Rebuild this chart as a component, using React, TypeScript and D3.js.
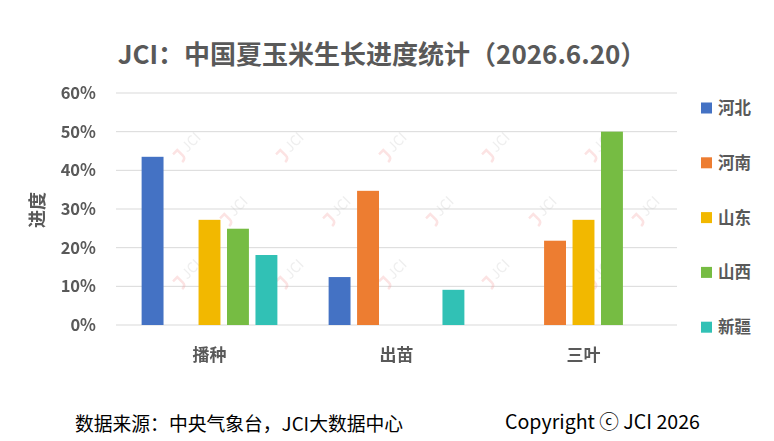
import { useEffect, useRef } from "react";
import * as d3 from "d3";

const stages = ["播种", "出苗", "三叶"];
const provinces = ["河北", "河南", "山东", "山西", "新疆"];
const colors = ["#4472C4", "#ED7D31", "#F2B800", "#76BC43", "#31C1B5"];

// progress per province, order follows stages
const hebei = [0.435, 0.124, 0];
const henan = [0, 0.347, 0.218];
const shandong = [0.272, 0, 0.272];
const shanxi = [0.249, 0, 0.5];
const xinjiang = [0.181, 0.091, 0];

const seriesValues = [hebei, henan, shandong, shanxi, xinjiang];
const yTicks = [0, 0.1, 0.2, 0.3, 0.4, 0.5, 0.6];

const title = "JCI：中国夏玉米生长进度统计（2026.6.20）";
const source = "数据来源：中央气象台，JCI大数据中心";
const copyright = "Copyright ⓒ JCI 2026";

export default function App() {
  const svgRef = useRef<SVGSVGElement | null>(null);

  useEffect(() => {
    if (!svgRef.current) return;
    const width = 774;
    const height = 441;
    const margin = { top: 93, right: 97, bottom: 116, left: 116 };
    const font = "'Noto Sans CJK SC', 'Noto Sans', sans-serif";
    const textColor = "#595959";

    const svg = d3.select(svgRef.current);
    svg.selectAll("*").remove();

    svg.append("rect").attr("width", width).attr("height", height).attr("fill", "#fff");

    const x0 = d3
      .scaleBand()
      .domain(stages)
      .range([margin.left, width - margin.right])
      .paddingInner(0)
      .paddingOuter(0);

    const x1 = d3
      .scaleBand()
      .domain(provinces)
      .range([0, x0.bandwidth()])
      .paddingInner(0.23)
      .paddingOuter(0.9);

    const y = d3
      .scaleLinear()
      .domain([0, 0.6])
      .range([height - margin.bottom, margin.top]);

    // gridlines
    svg
      .append("g")
      .selectAll("line")
      .data(yTicks)
      .join("line")
      .attr("x1", margin.left)
      .attr("x2", width - margin.right)
      .attr("y1", (d) => y(d))
      .attr("y2", (d) => y(d))
      .attr("stroke", "#d9d9d9")
      .attr("stroke-width", 1);

    // watermark
    const wm = svg.append("g").attr("opacity", 0.3);
    const rows = [143, 207, 270];
    rows.forEach((ry, ri) => {
      for (let i = 0; i < 6; i++) {
        const cx = (ri % 2 === 0 ? 190 : 237) + i * 103;
        if (cx > width - margin.right) continue;
        const g = wm.append("g").attr("transform", `translate(${cx},${ry}) rotate(-45)`);
        g.append("path")
          .attr("d", "M-20,-4 L-14,-4 L-14,4 Q-14,8 -19,8")
          .attr("fill", "none")
          .attr("stroke", "#f3a0a0")
          .attr("stroke-width", 2.5);
        g.append("text")
          .attr("x", -9)
          .attr("y", 5)
          .attr("font-family", font)
          .attr("font-size", 14)
          .attr("fill", "#c8c8c8")
          .text("JCI");
      }
    });

    // bars
    const groups = svg
      .append("g")
      .selectAll("g")
      .data(stages)
      .join("g")
      .attr("transform", (d) => `translate(${x0(d)},0)`);

    groups
      .selectAll("rect")
      .data((_, si) => provinces.map((p, pi) => ({ p, pi, v: seriesValues[pi][si] })))
      .join("rect")
      .filter((d) => d.v > 0)
      .attr("x", (d) => x1(d.p) as number)
      .attr("width", x1.bandwidth())
      .attr("y", (d) => y(d.v))
      .attr("height", (d) => y(0) - y(d.v))
      .attr("fill", (d) => colors[d.pi]);

    // y axis labels
    svg
      .append("g")
      .selectAll("text")
      .data(yTicks)
      .join("text")
      .attr("x", 96)
      .attr("y", (d) => y(d))
      .attr("dy", "0.36em")
      .attr("text-anchor", "end")
      .attr("font-family", font)
      .attr("font-size", 16.5)
      .attr("font-weight", "bold")
      .attr("fill", textColor)
      .text((d) => d3.format(".0%")(d));

    // x axis labels
    svg
      .append("g")
      .selectAll("text")
      .data(stages)
      .join("text")
      .attr("x", (d) => (x0(d) as number) + x0.bandwidth() / 2)
      .attr("y", 355)
      .attr("dy", "0.36em")
      .attr("text-anchor", "middle")
      .attr("font-family", font)
      .attr("font-size", 17)
      .attr("font-weight", "bold")
      .attr("fill", textColor)
      .text((d) => d);

    // y axis title
    svg
      .append("text")
      .attr("transform", `translate(38,210) rotate(-90)`)
      .attr("dy", "0.36em")
      .attr("text-anchor", "middle")
      .attr("font-family", font)
      .attr("font-size", 18)
      .attr("font-weight", "bold")
      .attr("fill", textColor)
      .text("进度");

    // title
    svg
      .append("text")
      .attr("x", 382)
      .attr("y", 55)
      .attr("dy", "0.36em")
      .attr("text-anchor", "middle")
      .attr("font-family", font)
      .attr("font-size", 26)
      .attr("font-weight", "bold")
      .attr("fill", textColor)
      .text(title);

    // legend
    const legend = svg.append("g").attr("transform", "translate(701,108)");
    provinces.forEach((p, i) => {
      const row = legend.append("g").attr("transform", `translate(0,${i * 54.8})`);
      row.append("rect").attr("x", 0).attr("y", -5.5).attr("width", 11).attr("height", 11).attr("fill", colors[i]);
      row
        .append("text")
        .attr("x", 17)
        .attr("y", 0)
        .attr("dy", "0.36em")
        .attr("font-family", font)
        .attr("font-size", 16.5)
        .attr("font-weight", "bold")
        .attr("fill", textColor)
        .text(p);
    });

    // footer
    svg
      .append("text")
      .attr("x", 75)
      .attr("y", 424)
      .attr("dy", "0.36em")
      .attr("font-family", font)
      .attr("font-size", 18.8)
      .attr("fill", "#000")
      .text(source);

    svg
      .append("text")
      .attr("x", 505)
      .attr("y", 422)
      .attr("dy", "0.36em")
      .attr("font-family", font)
      .attr("font-size", 19.6)
      .attr("fill", "#000")
      .text(copyright);
  }, []);

  return (
    <svg
      ref={svgRef}
      width={774}
      height={441}
      viewBox="0 0 774 441"
      style={{ position: "absolute", left: 0, top: 0 }}
    ></svg>
  );
}
